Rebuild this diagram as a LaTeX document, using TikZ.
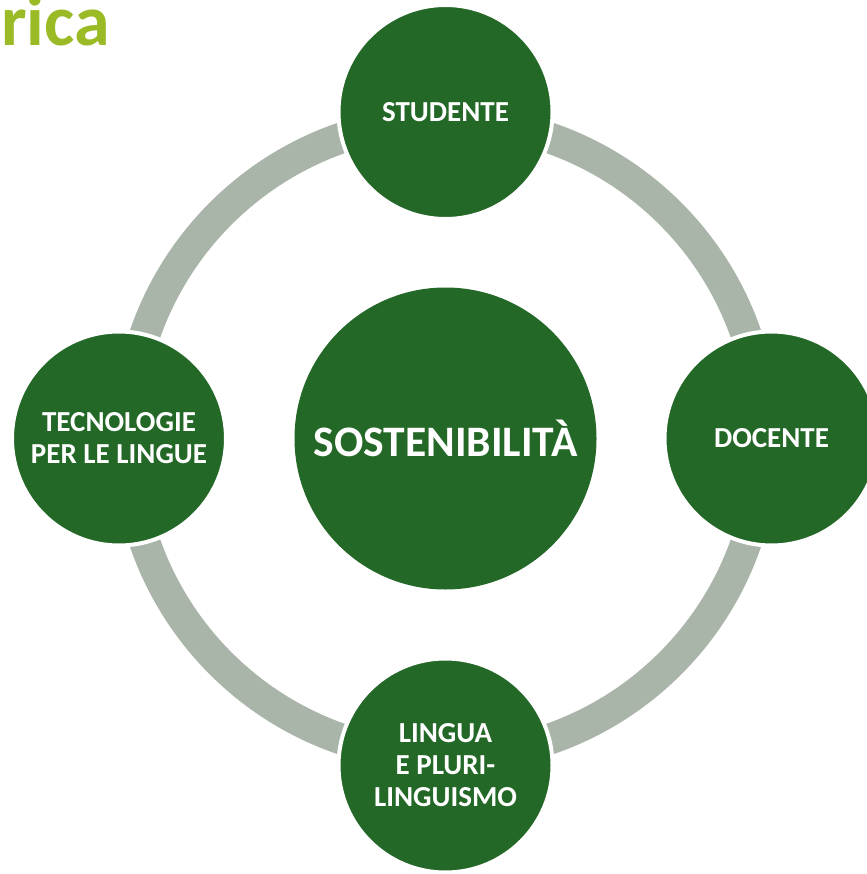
\documentclass[tikz,border=0pt]{standalone}
\usepackage{fontspec}
\setmainfont{Carlito}
\definecolor{dkgreen}{RGB}{36,104,40}
\definecolor{ringgray}{RGB}{170,181,169}
\definecolor{titlegreen}{RGB}{155,187,38}
\tikzset{
  sat/.style={circle, fill=dkgreen, draw=white, line width=4pt, minimum size=214pt, inner sep=0pt,
    text=white, align=center, font=\bfseries\fontsize{29}{32}\selectfont},
  hub/.style={circle, fill=dkgreen, minimum size=302pt, inner sep=0pt,
    text=white, align=center, font=\bfseries\fontsize{43.5}{50}\selectfont},
  ring/.style={draw=ringgray, line width=31pt}
}
\begin{document}
\begin{tikzpicture}[x=1pt,y=-1pt]
\useasboundingbox (0,0) rectangle (866,874);
\fill[white] (0,0) rectangle (866,874);
\coordinate (c) at (445.5,438.5);
\draw[ring] (c) circle[radius=318pt];
\node[hub] (hub) at (c) {SOSTENIBILITÀ};
\node[sat] (stud) at (445.5,112) {STUDENTE};
\node[sat] (doc) at (771.5,438.5) {DOCENTE};
\node[sat] (ling) at (445.5,765.5) {LINGUA\\E PLURI-\\LINGUISMO};
\node[sat] (tec) at (119,438.5) {TECNOLOGIE\\PER LE LINGUE};
\node[anchor=base west, inner sep=0pt, text=titlegreen, font=\bfseries\fontsize{72}{80}\selectfont] (title) at (1,46) {rica};
\end{tikzpicture}
\end{document}
